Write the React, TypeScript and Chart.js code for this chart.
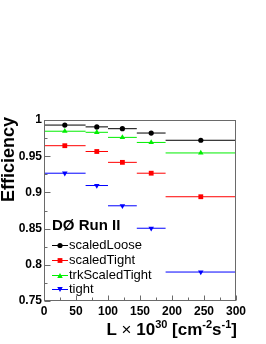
import React, { useEffect, useRef } from "react";
import { Chart, registerables } from "chart.js";

Chart.register(...registerables);

const binCenters = [32.5, 82.5, 122.5, 167.5, 245];
const binLow = [0, 65, 100, 145, 190];
const binHigh = [65, 100, 145, 190, 300];

const scaledLoose = [0.993, 0.9905, 0.988, 0.982, 0.972];
const scaledTight = [0.9645, 0.9565, 0.9415, 0.9265, 0.894];
const trkScaledTight = [0.9845, 0.983, 0.976, 0.969, 0.9545];
const tight = [0.9265, 0.9095, 0.8815, 0.8505, 0.79];

const seriesNames = ["scaledLoose", "scaledTight", "trkScaledTight", "tight"];
const seriesColors = ["#000000", "#ff0000", "#00ee00", "#0000ff"];
const seriesValues = [scaledLoose, scaledTight, trkScaledTight, tight];
const seriesStyles = ["circle", "rect", "triangle", "triangle"];
const seriesRot = [0, 0, 0, 180];
const seriesRadius = [2.6, 3.4, 3.2, 3.2];

const yTickLabels: Record<string, string> = {
  "0.75": "0.75",
  "0.8": "0.8",
  "0.85": "0.85",
  "0.9": "0.9",
  "0.95": "0.95",
  "1": "1",
};

const legendTitle = "DØ Run II";
const yTitle = "Efficiency";

const FONT = "'Liberation Sans', Arial, Helvetica, sans-serif";

const drawPlugin = {
  id: "rootStyle",
  beforeDatasetsDraw(chart: any) {
    const ctx = chart.ctx;
    const xs = chart.scales.x;
    const ys = chart.scales.y;
    ctx.save();
    ctx.lineWidth = 1;
    chart.data.datasets.forEach((ds: any, di: number) => {
      ctx.strokeStyle = seriesColors[di];
      ds.data.forEach((p: any, i: number) => {
        const y = ys.getPixelForValue(p.y);
        ctx.beginPath();
        ctx.moveTo(xs.getPixelForValue(binLow[i]), y);
        ctx.lineTo(xs.getPixelForValue(binHigh[i]), y);
        ctx.stroke();
      });
    });
    ctx.restore();
  },
  afterDraw(chart: any) {
    const ctx = chart.ctx;
    const a = chart.chartArea;
    const xs = chart.scales.x;
    const ys = chart.scales.y;
    ctx.save();
    // frame
    const L = Math.round(a.left) + 0.5;
    const R = Math.round(a.right) - 0.5;
    const T = Math.round(a.top) + 0.5;
    const B = Math.round(a.bottom) - 0.5;
    ctx.strokeStyle = "#6a6a6a";
    ctx.lineWidth = 1;
    ctx.strokeRect(L, T, R - L, B - T);
    // y ticks
    ctx.beginPath();
    for (let i = 0; i <= 10; i++) {
      const v = 0.75 + i * 0.025;
      const y = Math.round(ys.getPixelForValue(v)) + 0.5;
      const len = i % 2 === 0 ? 6 : 3;
      ctx.moveTo(L, y);
      ctx.lineTo(L + len, y);
    }
    // x ticks
    for (let i = 0; i <= 12; i++) {
      const v = i * 25;
      const x = Math.round(xs.getPixelForValue(v)) + 0.5;
      const len = i % 2 === 0 ? 5 : 3;
      ctx.moveTo(x, B);
      ctx.lineTo(x, B - len);
    }
    ctx.stroke();

    // legend
    ctx.fillStyle = "#000";
    ctx.textBaseline = "middle";
    ctx.textAlign = "left";
    ctx.font = `bold 15px ${FONT}`;
    ctx.fillText(legendTitle, 52, 226);
    ctx.font = `13px ${FONT}`;
    const rows = [245, 260.3, 275, 289];
    seriesNames.forEach((n, i) => {
      const y = rows[i];
      ctx.strokeStyle = seriesColors[i];
      ctx.beginPath();
      ctx.moveTo(52, Math.round(y) + 0.5);
      ctx.lineTo(68, Math.round(y) + 0.5);
      ctx.stroke();
      ctx.fillStyle = seriesColors[i];
      ctx.strokeStyle = seriesColors[i];
      (Chart as any).helpers?.drawPoint;
      drawMarker(ctx, seriesStyles[i], seriesRadius[i], seriesRot[i], 60, Math.round(y) + 0.5);
      ctx.fillStyle = "#000";
      ctx.fillText(n, 69, y + 0.5);
    });

    // y title
    ctx.save();
    ctx.translate(14, 117);
    ctx.rotate(-Math.PI / 2);
    ctx.font = `bold 18px ${FONT}`;
    ctx.textAlign = "right";
    ctx.textBaseline = "alphabetic";
    ctx.fillStyle = "#000";
    ctx.fillText(yTitle, 0, 0);
    ctx.restore();

    // x title
    const parts: [string, string, number][] = [
      ["L ", `bold 17px ${FONT}`, 0],
      ["×", `17px ${FONT}`, 0],
      [" 10", `bold 17px ${FONT}`, 0],
      ["30", `bold 11px ${FONT}`, -7],
      [" [cm", `bold 17px ${FONT}`, 0],
      ["-2", `bold 11px ${FONT}`, -7],
      ["s", `bold 17px ${FONT}`, 0],
      ["-1", `bold 11px ${FONT}`, -7],
      ["]", `bold 17px ${FONT}`, 0],
    ];
    ctx.textBaseline = "alphabetic";
    ctx.textAlign = "left";
    let total = 0;
    parts.forEach(([t, f]) => {
      ctx.font = f;
      total += ctx.measureText(t).width;
    });
    let x = 237 - total;
    parts.forEach(([t, f, dy]) => {
      ctx.font = f;
      ctx.fillText(t, x, 335 + dy);
      x += ctx.measureText(t).width;
    });
    ctx.restore();
  },
};

function drawMarker(ctx: any, style: string, r: number, rot: number, x: number, y: number) {
  ctx.save();
  ctx.translate(x, y);
  ctx.rotate((rot * Math.PI) / 180);
  ctx.beginPath();
  if (style === "circle") {
    ctx.arc(0, 0, r, 0, Math.PI * 2);
  } else if (style === "rect") {
    const s = r * Math.SQRT1_2;
    ctx.rect(-s, -s, 2 * s, 2 * s);
  } else {
    const h = r * 1.5;
    const side = (3 * r) / Math.sqrt(3);
    ctx.moveTo(-side / 2, h / 3 + r * 0.25);
    ctx.lineTo(0, -(2 * h) / 3 + r * 0.25);
    ctx.lineTo(side / 2, h / 3 + r * 0.25);
    ctx.closePath();
  }
  ctx.fill();
  ctx.restore();
}

export default function App() {
  const ref = useRef<HTMLCanvasElement | null>(null);
  useEffect(() => {
    if (!ref.current) return;
    const chart = new Chart(ref.current, {
      type: "scatter",
      data: {
        datasets: seriesNames.map((n, i) => ({
          label: n,
          data: binCenters.map((c, j) => ({ x: c, y: seriesValues[i][j] })),
          backgroundColor: seriesColors[i],
          borderColor: seriesColors[i],
          borderWidth: 0,
          pointStyle: seriesStyles[i] as any,
          rotation: seriesRot[i],
          pointRadius: seriesRadius[i],
          showLine: false,
        })),
      },
      options: {
        animation: false,
        responsive: false,
        devicePixelRatio: 1,
        layout: { padding: { top: 120, right: 30, left: 0, bottom: 0 } },
        plugins: { legend: { display: false }, tooltip: { enabled: false } },
        scales: {
          x: {
            type: "linear",
            min: 0,
            max: 300,
            grid: { display: false, drawTicks: false },
            border: { display: false },
            ticks: {
              stepSize: 50,
              padding: 3,
              color: "#000",
              maxRotation: 0,
              font: { family: FONT, size: 12, weight: "bold" },
            },
            afterFit: (s: any) => {
              s.height = 43;
            },
          },
          y: {
            type: "linear",
            min: 0.75,
            max: 1,
            grid: { display: false, drawTicks: false },
            border: { display: false },
            ticks: {
              stepSize: 0.05,
              padding: 2,
              color: "#000",
              font: { family: FONT, size: 12, weight: "bold" },
              callback: (v: any) => {
                const k = String(Math.round(Number(v) * 100) / 100);
                return yTickLabels[k] ?? k;
              },
            },
            afterFit: (s: any) => {
              s.width = 44;
            },
          },
        },
      },
      plugins: [drawPlugin],
    });
    return () => chart.destroy();
  }, []);
  return (
    <div style={{ position: "fixed", left: 0, top: 0, width: 266, height: 344, background: "#fff" }}>
      <canvas ref={ref} width={266} height={344} style={{ width: 266, height: 344 }} />
    </div>
  );
}
